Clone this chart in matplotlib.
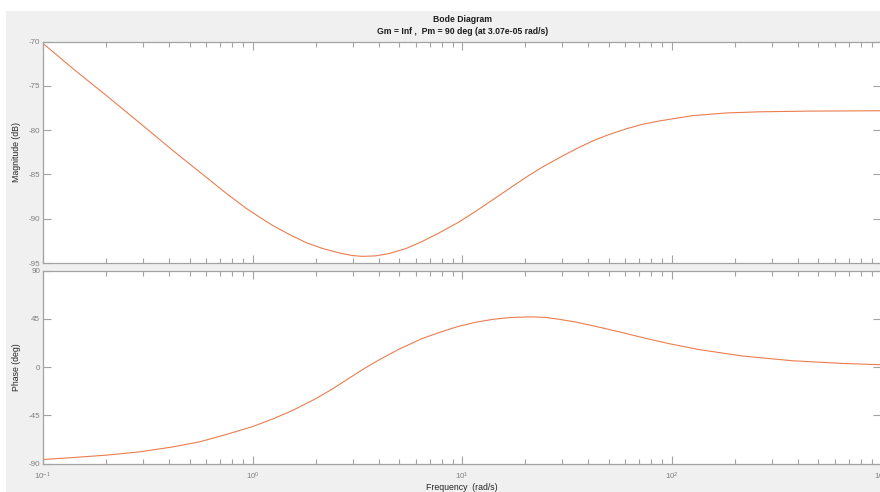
import matplotlib
matplotlib.use("Agg")
import matplotlib.pyplot as plt
from matplotlib.patches import Rectangle
from matplotlib.ticker import LogLocator, FixedLocator, NullFormatter

plt.rcParams['font.family'] = ['Liberation Sans', 'DejaVu Sans']
plt.rcParams['mathtext.fontset'] = 'custom'
plt.rcParams['mathtext.rm'] = 'Liberation Sans'
plt.rcParams['mathtext.it'] = 'Liberation Sans:italic'
plt.rcParams['axes.unicode_minus'] = False

# ---- data ----
mag_freq = [0.1, 0.14, 0.201, 0.29, 0.417, 0.6, 0.746, 0.929, 1.076, 1.245,
            1.49, 1.8, 2.15, 2.58, 2.98, 3.33, 3.85, 4.45, 5.35, 6.4,
            7.69, 9.6, 11.7, 14.0, 17.0, 20.2, 24.0, 29.1, 35.0, 42.0,
            50.0, 60.5, 72.0, 87.3, 126, 182, 262, 454, 1000]
mag_db = [-70.2, -73.1, -76.1, -79.2, -82.3, -85.3, -87.1, -88.8, -89.8, -90.75,
          -91.75, -92.7, -93.35, -93.85, -94.15, -94.25, -94.2, -93.95, -93.4, -92.6,
          -91.65, -90.4, -89.1, -87.85, -86.5, -85.3, -84.2, -83.1, -82.1, -81.2,
          -80.5, -79.85, -79.35, -78.95, -78.35, -78.05, -77.92, -77.84, -77.8]

phase_freq = [0.1, 0.14, 0.201, 0.29, 0.417, 0.558, 0.746, 1.0, 1.245, 1.55,
              2.0, 2.4, 2.88, 3.4, 3.99, 4.97, 6.41, 7.69, 9.57, 11.7,
              14.0, 17.0, 21.3, 25.0, 29.1, 35.0, 45.2, 57.0, 72.8, 97.5,
              135.5, 218, 378, 655, 1000]
phase_deg = [-86.3, -84.4, -82.2, -79.1, -74.5, -69.8, -63.0, -55.5, -48.5, -40.5,
             -29.5, -20.5, -10.5, -1.5, 6.5, 16.5, 26.5, 32.0, 38.0, 42.0,
             44.6, 46.3, 46.9, 46.4, 44.6, 42.0, 37.2, 32.6, 27.5, 21.8,
             16.3, 10.3, 5.9, 3.4, 2.2]

mag_ticks = [-95, -90, -85, -80, -75, -70]
phase_ticks = [-90, -45, 0, 45, 90]
x_range = [0.1, 1000]

title1 = "Bode Diagram"
title2 = "Gm = Inf ,  Pm = 90 deg (at 3.07e-05 rad/s)"
xlabel = "Frequency  (rad/s)"
ylabel_mag = "Magnitude (dB)"
ylabel_phase = "Phase (deg)"

# ---- figure ----
W, H = 880, 492
fig = plt.figure(figsize=(W / 100, H / 100), dpi=100, facecolor='white')
fig.patches.append(Rectangle((6 / W, 0), 1, (H - 11) / H, transform=fig.transFigure,
                             facecolor='#f0f0f0', edgecolor='none', zorder=-10))

def px(x0, y0, x1, y1):
    return [x0 / W, 1 - y1 / H, (x1 - x0) / W, (y1 - y0) / H]

ax1 = fig.add_axes(px(43, 41.7, 881.4, 263))
ax2 = fig.add_axes(px(43, 270.7, 881.4, 463.5))

line_color = '#ea7d50'
spine_color = '#a3a3a3'
tick_label_color = '#7f7f7f'

ax1.plot(mag_freq, mag_db, color=line_color, lw=0.8)
ax2.plot(phase_freq, phase_deg, color=line_color, lw=0.8)

for ax, yt in ((ax1, mag_ticks), (ax2, phase_ticks)):
    ax.set_xscale('log')
    ax.set_xlim(x_range)
    ax.set_ylim(yt[0], yt[-1])
    ax.yaxis.set_major_locator(FixedLocator(yt))
    ax.xaxis.set_major_locator(LogLocator(base=10, numticks=10))
    ax.xaxis.set_minor_locator(LogLocator(base=10, subs=range(2, 10), numticks=20))
    ax.xaxis.set_minor_formatter(NullFormatter())
    ax.set_facecolor('white')
    for s in ax.spines.values():
        s.set_color(spine_color)
        s.set_linewidth(0.9)
    ax.tick_params(which='both', direction='in', top=True, right=True,
                   color=spine_color, labelcolor=tick_label_color, labelsize=5.8, width=0.8)
    ax.tick_params(which='major', length=6, pad=2)
    ax.tick_params(which='minor', length=3.5)

ax2.tick_params(axis='x', which='major', pad=5)
ax1.tick_params(labelbottom=False)
ax1.set_ylabel(ylabel_mag, fontsize=6.3, color='#262626', labelpad=6)
ax2.set_ylabel(ylabel_phase, fontsize=6.3, color='#262626', labelpad=6)
ax2.set_xlabel(xlabel, fontsize=6.3, color='#262626', labelpad=1)
ax1.yaxis.set_label_coords(-22 / (881.4 - 43), 0.5)
ax2.yaxis.set_label_coords(-22 / (881.4 - 43), 0.5)

xc = (43 + 881.4) / 2 / W
fig.text(xc, 1 - 20 / H, title1, ha='center', va='center', fontsize=6.2,
         fontweight='bold', color='#1a1a1a')
fig.text(xc, 1 - 31 / H, title2, ha='center', va='center', fontsize=6.2,
         fontweight='bold', color='#1a1a1a')

fig.savefig('out.png', dpi=100, facecolor=fig.get_facecolor())
